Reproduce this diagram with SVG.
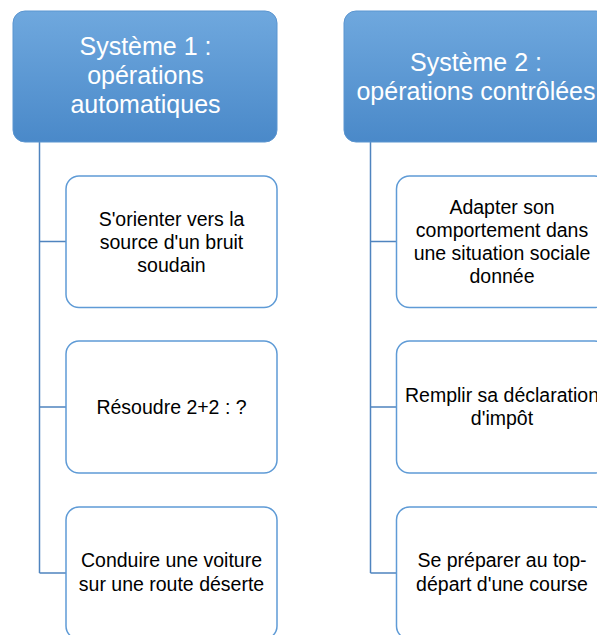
<svg xmlns="http://www.w3.org/2000/svg" width="597" height="635" viewBox="0 0 597 635">
<defs>
<linearGradient id="hg" x1="0" y1="0" x2="0" y2="1">
<stop offset="0" stop-color="#6fa8de"/>
<stop offset="1" stop-color="#4a89c9"/>
</linearGradient>
</defs>
<style>
.head rect{fill:url(#hg);stroke:#5b95d0;stroke-width:1}
.head text{font-family:"Liberation Sans",Arial,sans-serif;font-size:25px;fill:#ffffff;text-anchor:middle}
.child rect{fill:#ffffff;stroke:#5f9bd6;stroke-width:1.5}
.child text{font-family:"Liberation Sans",Arial,sans-serif;font-size:19.5px;fill:#000000;text-anchor:middle}
.conn{fill:none;stroke:#4f84bf;stroke-width:1.5}
</style>
<rect width="597" height="635" fill="#ffffff"/>
<g id="connectors">
<path class="conn" d="M39.5 142 V573 M39.5 241.5 H66 M39.5 407 H66 M39.5 573 H66"/>
<path class="conn" d="M370.5 142 V573 M370.5 241.5 H396.5 M370.5 407 H396.5 M370.5 573 H396.5"/>
</g>
<g id="sys1" class="head">
<rect x="13" y="11" width="264" height="131" rx="12"/>
<text x="145.5" y="55">Système 1 :</text>
<text x="145.5" y="84">opérations</text>
<text x="145.5" y="113">automatiques</text>
</g>
<g id="sys2" class="head">
<rect x="344" y="11" width="264" height="131" rx="12"/>
<text x="476" y="70.5">Système 2 :</text>
<text x="476" y="99.5">opérations contrôlées</text>
</g>
<g id="s1a" class="child">
<rect x="66" y="176" width="211" height="131.5" rx="13"/>
<text x="171.5" y="225.5">S'orienter vers la</text>
<text x="171.5" y="248.5">source d'un bruit</text>
<text x="171.5" y="271.5">soudain</text>
</g>
<g id="s1b" class="child">
<rect x="66" y="341" width="211" height="132" rx="13"/>
<text x="171.5" y="414">Résoudre 2+2 : ?</text>
</g>
<g id="s1c" class="child">
<rect x="66" y="507" width="211" height="132" rx="13"/>
<text x="171.5" y="567">Conduire une voiture</text>
<text x="171.5" y="590.5">sur une route déserte</text>
</g>
<g id="s2a" class="child">
<rect x="396.5" y="176" width="211" height="131.5" rx="13"/>
<text x="502" y="213.5">Adapter son</text>
<text x="502" y="236.5">comportement dans</text>
<text x="502" y="260">une situation sociale</text>
<text x="502" y="283">donnée</text>
</g>
<g id="s2b" class="child">
<rect x="396.5" y="341" width="211" height="132" rx="13"/>
<text x="502" y="402">Remplir sa déclaration</text>
<text x="502" y="425">d'impôt</text>
</g>
<g id="s2c" class="child">
<rect x="396.5" y="507" width="211" height="132" rx="13"/>
<text x="502" y="567">Se préparer au top-</text>
<text x="502" y="590.5">départ d'une course</text>
</g>
</svg>
